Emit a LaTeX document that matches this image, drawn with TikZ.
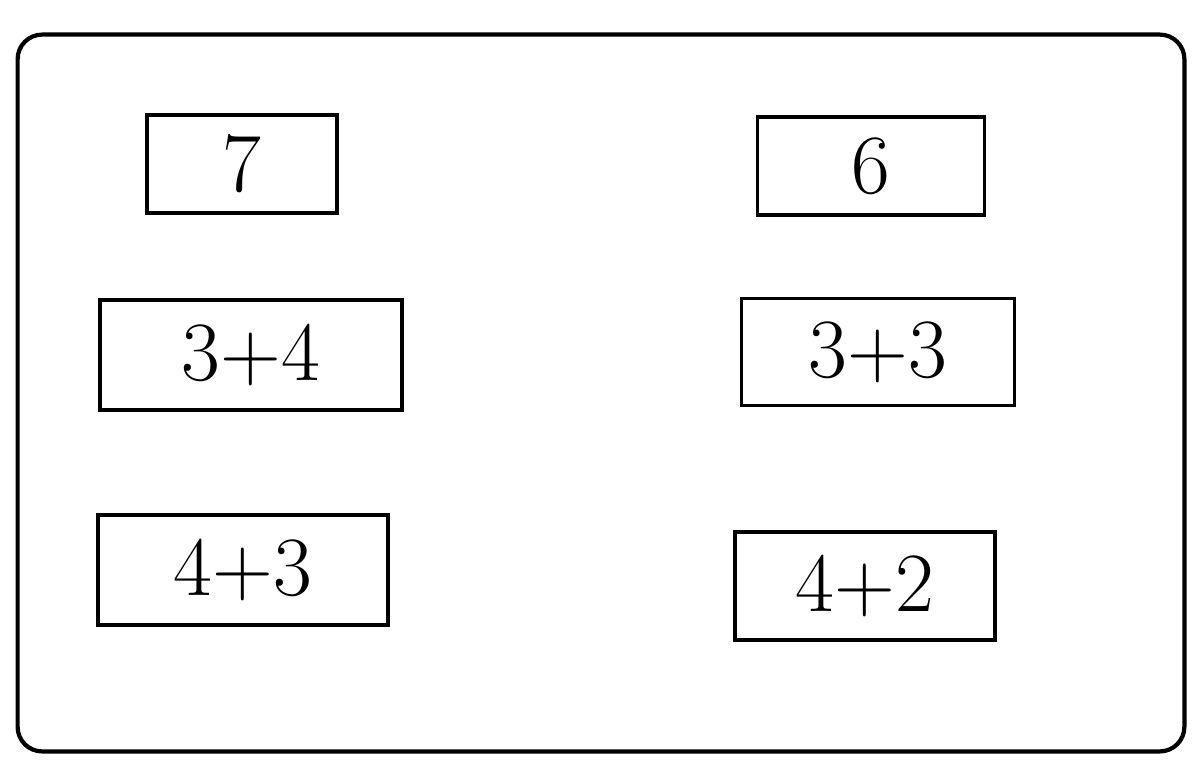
\documentclass[tikz,border=0pt]{standalone}
\begin{document}
\begin{tikzpicture}[x=0.02cm, y=-0.02cm,
	box/.style={draw, line width=2pt, inner sep=0pt, font=\fontsize{48}{56}\selectfont}]

	\useasboundingbox (0, 0) rectangle (1196, 768);

	\node (frame) [draw, line width=2.4pt, rounded corners=14pt, minimum width=23.34cm, minimum height=14.34cm] at (601, 393) {};

	\node (a1) [box, minimum width=3.8cm, minimum height=1.96cm] at (242, 164) {7};
	\node (a2) [box, minimum width=6.04cm, minimum height=2.2cm] at (251, 355) {3+4};
	\node (a3) [box, minimum width=5.8cm, minimum height=2.2cm] at (243, 570) {4+3};
	\node (b1) [box, minimum width=4.54cm, minimum height=1.96cm] at (871, 166) {6};
	\node (b2) [box, minimum width=5.46cm, minimum height=2.14cm] at (878, 352) {3+3};
	\node (b3) [box, minimum width=5.2cm, minimum height=2.16cm] at (865, 586) {4+2};

\end{tikzpicture}
\end{document}
